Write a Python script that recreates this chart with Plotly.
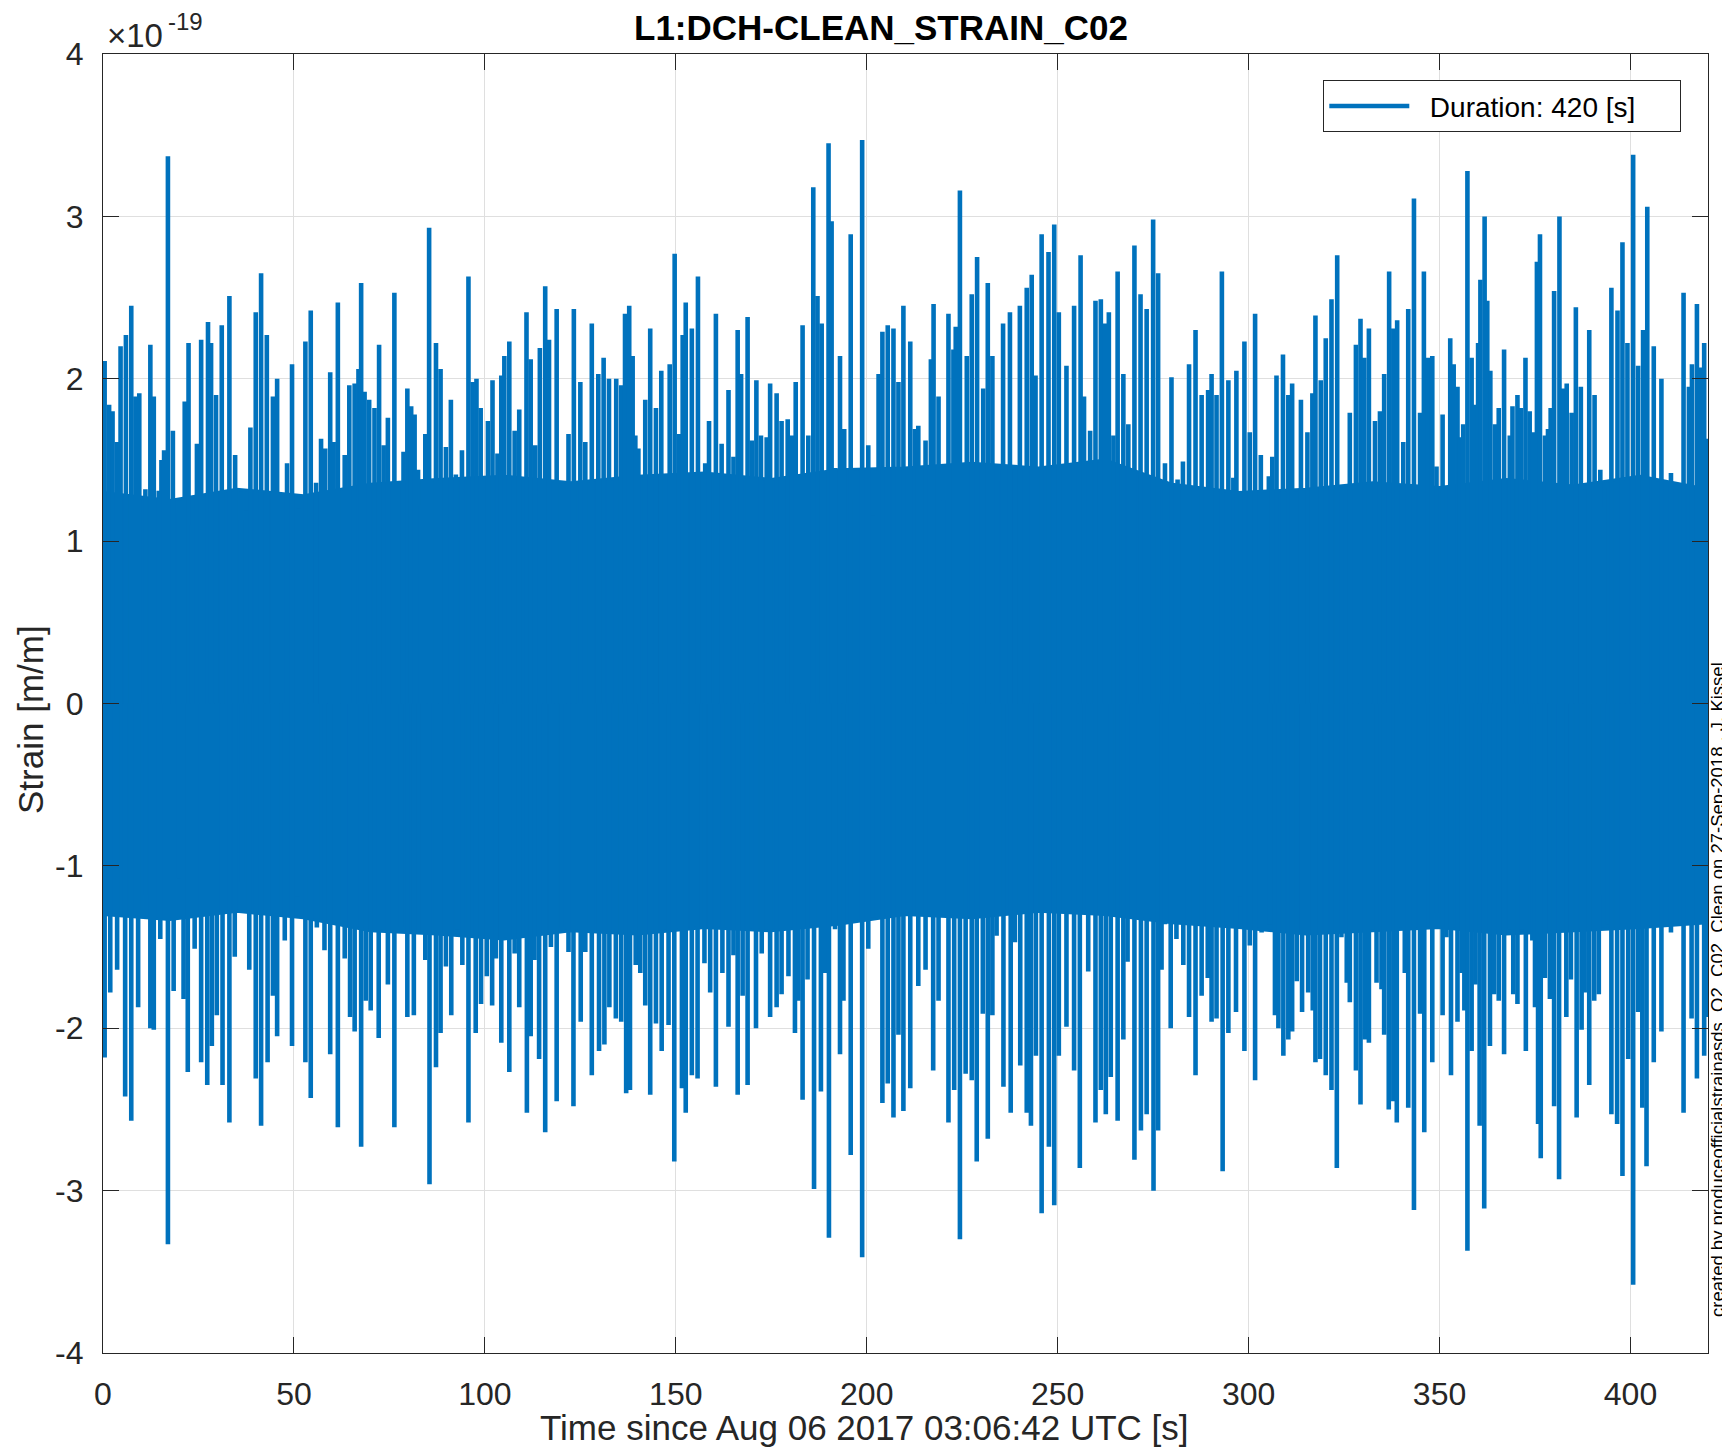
import plotly.graph_objects as go

# ---------------- data (strain in units of 1e-19, time in s) ----------------
peak_t = [0.43, 1.6, 2.5, 3.6, 4.6, 6.0, 7.4, 8.5, 9.5, 11.1, 12.4, 13.3, 14.6, 15.3, 16.0, 17.0, 18.3, 19.8,
          21.4, 22.4, 23.3, 24.6, 25.7, 27.5, 28.3, 29.6, 31.1, 33.1, 34.6, 36.2, 37.7, 38.6, 40.0, 41.4, 42.9,
          44.5, 45.6, 46.8, 48.2, 49.5, 51.2, 53.0, 54.4, 55.8, 57.1, 58.2, 59.5, 60.4, 61.5, 63.3, 64.5, 65.9,
          66.9, 67.6, 68.5, 69.7, 71.1, 72.3, 73.5, 74.6, 76.3, 77.4, 78.7, 79.7, 80.7, 81.6, 82.5, 83.3, 84.4,
          85.4, 87.2, 88.4, 89.8, 91.1, 92.4, 94.0, 95.7, 96.8, 97.8, 98.9, 100.8, 102.0, 103.3, 104.3, 105.1,
          106.4, 107.8, 109.0, 110.9, 112.0, 113.2, 114.4, 115.8, 116.8, 118.0, 118.8, 120.8, 121.9, 123.3, 125.0,
          126.3, 128.0, 129.7, 131.1, 132.5, 134.4, 135.7, 136.7, 137.8, 138.7, 139.4, 140.2, 142.0, 143.3, 144.8,
          146.2, 147.2, 148.4, 149.7, 150.9, 151.8, 152.6, 154.2, 155.8, 157.0, 157.7, 158.7, 160.5, 162.0, 163.8,
          165.1, 166.2, 167.1, 168.8, 169.9, 171.1, 172.3, 173.8, 174.7, 176.4, 177.7, 179.3, 180.4, 181.4, 183.2,
          184.7, 186.0, 187.1, 188.2, 190.0, 190.8, 191.7, 193.0, 194.1, 195.8, 196.9, 198.8, 200.4, 201.7, 203.1,
          204.1, 205.5, 207.0, 208.3, 209.6, 211.4, 212.6, 213.5, 215.4, 216.8, 217.5, 218.8, 220.1, 221.4, 222.7,
          223.3, 224.4, 226.2, 227.5, 228.9, 230.5, 231.7, 232.9, 234.1, 235.7, 237.5, 238.8, 240.1, 241.9, 243.2,
          244.2, 245.8, 247.6, 249.1, 250.3, 252.3, 254.3, 256.0, 256.9, 258.5, 259.9, 261.3, 262.4, 263.4, 264.6,
          265.7, 267.2, 268.5, 270.1, 271.7, 273.3, 275.0, 276.3, 278.1, 279.8, 281.4, 282.8, 284.4, 286.1, 287.7,
          289.4, 290.3, 291.6, 293.0, 294.7, 296.0, 296.8, 298.9, 300.3, 301.7, 303.2, 305.3, 306.2, 307.3, 309.0,
          310.4, 311.4, 313.7, 315.4, 316.7, 317.5, 318.9, 320.2, 321.7, 323.2, 324.3, 326.5, 328.1, 329.3, 330.3,
          331.5, 333.1, 334.4, 335.5, 336.8, 337.9, 338.9, 340.5, 341.8, 343.3, 344.9, 345.9, 346.9, 348.1, 349.2,
          350.8, 352.8, 353.7, 354.7, 355.3, 356.2, 357.3, 358.4, 359.3, 360.1, 360.7, 361.8, 362.5, 363.3, 364.5,
          365.5, 366.9, 368.4, 369.1, 370.4, 371.3, 372.5, 373.6, 374.5, 375.5, 376.3, 377.6, 378.4, 379.1, 380.0,
          381.4, 382.4, 383.3, 384.6, 385.7, 387.0, 388.0, 389.2, 390.6, 392.1, 393.1, 394.2, 395.0, 396.6, 397.9,
          399.2, 400.7, 402.0, 403.3, 404.4, 406.1, 408.1, 409.4, 410.6, 412.0, 413.9, 415.3, 416.1, 417.4, 418.4,
          419.3, 420.3]
peak_v = [2.11, 1.84, 1.80, 1.61, 2.20, 2.27, 2.45, 1.89, 1.91, 1.32, 2.21, 1.89, 1.31, 1.50, 1.56, 3.37, 1.68, 1.17,
          1.86, 2.22, 1.10, 1.60, 2.24, 2.35, 2.22, 1.90, 2.33, 2.51, 1.53, 1.13, 1.19, 1.70, 2.41, 2.65, 2.27,
          1.89, 2.00, 1.29, 1.48, 2.09, 1.20, 2.23, 2.42, 1.36, 1.63, 1.57, 2.04, 1.61, 2.47, 1.53, 1.96, 1.97,
          2.06, 2.59, 1.92, 1.87, 1.82, 2.21, 1.59, 1.76, 2.53, 1.37, 1.55, 1.94, 1.83, 1.78, 1.44, 1.22, 1.66,
          2.93, 2.22, 2.06, 1.58, 1.87, 1.41, 1.56, 2.63, 1.98, 2.00, 1.82, 1.74, 1.99, 1.54, 2.02, 2.14,
          2.23, 1.68, 1.81, 2.41, 2.12, 1.59, 2.19, 2.57, 2.24, 1.30, 2.43, 1.18, 1.66, 2.43, 1.98,
          1.61, 2.34, 2.03, 2.13, 2.00, 2.00, 1.96, 2.40, 2.45, 2.14, 1.65, 1.57, 1.87, 2.31, 1.82,
          2.05, 1.41, 2.09, 2.77, 1.66, 2.27, 2.47, 2.31, 2.63, 1.21, 1.48, 1.74, 2.40, 1.60, 1.93,
          1.52, 2.30, 2.03, 2.38, 1.62, 1.99, 1.65, 1.64, 1.97, 1.91, 1.74, 1.75, 1.65, 1.98, 2.33,
          1.65, 3.18, 2.51, 2.34, 3.45, 2.97, 1.45, 2.14, 1.69, 2.89, 1.26, 3.47, 1.59, 1.16, 2.03,
          2.29, 2.33, 2.31, 1.98, 2.45, 2.23, 1.69, 1.71, 1.62, 2.12, 2.46, 1.89, 1.25, 2.40, 2.18,
          2.32, 3.16, 2.14, 2.52, 2.75, 1.94, 2.59, 2.14, 1.37, 2.34, 2.41, 1.44, 2.45, 2.56, 2.64,
          2.02, 2.89, 2.78, 2.95, 2.41, 2.08, 2.45, 2.76, 1.89, 1.68, 2.48, 2.49, 2.34, 2.41, 1.65,
          2.66, 2.03, 1.72, 2.82, 2.52, 2.43, 2.98, 2.65, 1.48, 2.01, 1.38, 1.49, 2.09, 2.30, 1.90,
          1.93, 2.03, 1.90, 2.66, 1.99, 1.39, 2.05, 2.23, 1.67, 2.40, 1.53, 1.40, 1.52, 2.02, 2.15,
          1.90, 1.97, 1.87, 1.67, 1.91, 2.39, 1.99, 2.25, 2.49, 2.76, 1.30, 1.79, 2.21, 2.37, 2.13,
          2.31, 1.74, 1.80, 2.03, 2.66, 2.31, 2.36, 1.61, 2.43, 3.11, 1.79, 2.66, 2.13, 2.14, 1.46,
          1.78, 2.25, 2.09, 1.95, 1.64, 1.72, 3.28, 2.13, 1.84, 2.22, 2.61, 3.00, 2.48, 2.05, 1.72,
          1.82, 2.18, 1.65, 1.83, 1.90, 1.82, 2.13, 1.80, 1.67, 2.72, 2.89, 1.65, 1.69, 1.82, 2.54,
          3.00, 1.94, 1.97, 1.79, 2.44, 1.95, 1.32, 2.30, 1.90, 1.44, 1.21, 1.33, 2.56, 2.42, 2.84,
          2.22, 3.38, 2.08, 2.30, 3.06, 2.20, 2.00, 1.37, 1.42, 1.33, 2.53, 1.95, 2.09, 2.46, 2.07,
          2.22, 1.63]

trough_t = [0.43, 1.9, 3.7, 5.8, 7.4, 9.2, 11.1, 12.4, 13.3, 15.0, 17.0, 18.5, 19.8, 21.1, 22.2, 24.0, 25.7, 27.3,
            28.5, 29.8, 31.3, 33.1, 34.5, 36.4, 38.3, 40.0, 41.4, 43.1, 44.5, 45.6, 47.6, 49.5, 50.8, 53.0, 54.4,
            56.0, 58.0, 59.5, 61.5, 63.3, 64.7, 65.9, 67.6, 68.8, 70.1, 72.2, 74.6, 76.3, 78.1, 79.7, 81.4, 82.6,
            84.4, 85.5, 87.2, 88.4, 89.8, 91.2, 92.7, 94.1, 95.7, 97.6, 99.0, 100.5, 101.9, 102.9, 104.3, 106.4,
            107.8, 109.0, 111.0, 112.0, 113.0, 114.2, 115.8, 117.3, 118.8, 120.1, 121.9, 123.2, 125.1, 126.3, 128.0,
            129.9, 131.3, 132.6, 134.3, 135.7, 137.0, 138.0, 139.5, 140.7, 142.0, 143.3, 144.8, 146.3, 148.1, 149.6,
            151.6, 152.6, 154.2, 155.7, 157.5, 159.0, 160.5, 162.2, 163.8, 165.1, 166.2, 167.5, 168.8, 171.0, 172.5,
            174.7, 176.4, 177.7, 179.5, 181.2, 182.1, 183.2, 184.5, 186.2, 188.0, 189.1, 190.1, 191.7, 193.0, 193.9,
            195.8, 196.9, 198.8, 200.4, 201.5, 204.1, 205.5, 207.0, 208.3, 209.6, 211.4, 213.5, 215.4, 217.4, 218.8,
            220.1, 221.4, 222.9, 224.4, 225.9, 227.5, 228.8, 230.4, 231.7, 232.9, 234.0, 235.8, 237.7, 238.8, 240.2,
            241.9, 243.0, 244.3, 245.8, 247.7, 249.1, 250.3, 252.3, 254.3, 255.8, 258.0, 259.9, 261.3, 262.6, 263.9,
            265.7, 267.2, 268.3, 270.1, 271.8, 273.3, 275.1, 276.3, 277.2, 278.1, 279.6, 281.1, 282.9, 284.4, 286.1,
            287.7, 289.3, 290.3, 291.6, 293.2, 294.7, 296.7, 297.7, 298.9, 300.3, 301.7, 303.4, 305.6, 306.9, 307.8,
            309.1, 310.4, 311.4, 312.6, 314.0, 315.6, 316.8, 317.5, 318.7, 320.2, 321.7, 323.1, 324.3, 325.7, 326.5,
            328.1, 329.3, 330.4, 331.5, 333.5, 334.8, 335.5, 336.7, 337.9, 338.8, 340.9, 341.8, 343.3, 344.9, 346.0,
            348.1, 349.2, 350.8, 351.8, 353.0, 354.7, 355.8, 356.5, 357.3, 358.4, 359.4, 360.5, 361.7, 363.2, 364.3,
            365.5, 366.9, 368.4, 369.3, 370.4, 371.5, 372.6, 374.3, 375.0, 375.8, 376.5, 377.6, 378.9, 380.0, 381.3,
            383.2, 384.4, 385.9, 387.2, 388.0, 389.2, 390.5, 391.7, 392.8, 394.1, 395.0, 396.5, 397.9, 399.4, 400.7,
            402.0, 403.1, 404.2, 406.1, 408.1, 409.2, 410.6, 412.0, 413.9, 416.0, 417.4, 419.3, 420.3]
trough_v = [-2.18, -1.78, -1.64, -2.42, -2.57, -1.87, -1.18, -2.00, -2.01, -1.45, -3.33, -1.77, -1.08, -1.82, -2.27,
            -1.51, -2.21, -2.35, -2.11, -1.92, -2.35, -2.58, -1.56, -1.10, -1.64, -2.31, -2.60, -2.21, -1.80, -2.05,
            -1.46, -2.11, -1.19, -2.21, -2.43, -1.38, -1.52, -2.16, -2.61, -1.57, -1.93, -2.02, -2.73, -1.83, -1.89,
            -2.06, -1.73, -2.61, -1.38, -1.93, -1.92, -1.41, -1.58, -2.96, -2.24, -2.03, -1.62, -1.92, -1.39, -1.61,
            -2.58, -2.03, -1.85, -1.68, -1.86, -1.57, -2.09, -2.27, -1.54, -1.87, -2.52, -2.05, -1.58, -2.19, -2.64,
            -1.50, -2.45, -1.38, -1.53, -2.48, -1.96, -1.53, -2.29, -2.14, -2.10, -1.87, -1.94, -1.96, -2.40, -2.38,
            -1.61, -1.66, -1.86, -2.41, -1.97, -2.14, -1.98, -2.82, -2.37, -2.52, -2.29, -2.31, -1.60, -1.78, -2.36,
            -1.66, -1.99, -1.55, -2.41, -1.80, -2.35, -2.00, -1.54, -1.93, -1.87, -1.79, -1.68, -2.03, -1.83, -2.44,
            -1.70, -2.99, -2.39, -1.66, -3.29, -1.39, -2.16, -1.83, -2.78, -1.13, -3.41, -1.51, -1.32, -2.46, -2.34,
            -2.55, -2.04, -2.51, -2.37, -1.74, -1.64, -2.26, -1.83, -1.22, -2.58, -2.38, -3.30, -2.28, -2.32, -2.82,
            -1.91, -2.68, -1.92, -1.43, -2.36, -2.52, -1.47, -2.23, -2.52, -2.60, -2.17, -3.14, -2.73, -3.09, -2.17,
            -1.99, -2.26, -2.86, -1.65, -2.58, -2.38, -2.53, -2.30, -2.57, -2.07, -1.59, -2.81, -2.63, -2.53, -3.00,
            -2.63, -1.64, -1.36, -2.00, -1.45, -1.61, -1.93, -2.29, -1.80, -1.69, -1.96, -1.94, -2.88, -2.03, -1.90,
            -1.19, -2.14, -1.49, -2.32, -1.41, -1.36, -1.92, -2.00, -2.17, -2.07, -2.02, -1.71, -1.90, -1.78, -1.89,
            -2.21, -2.19, -2.29, -2.38, -2.86, -1.44, -1.72, -1.84, -2.26, -2.47, -2.07, -2.09, -1.72, -1.76, -2.04,
            -2.50, -2.45, -2.58, -1.66, -2.49, -3.12, -1.91, -2.64, -2.21, -1.29, -1.92, -1.44, -2.29, -1.96, -1.66,
            -1.89, -3.37, -2.14, -1.73, -2.60, -3.11, -2.11, -1.79, -1.83, -2.16, -1.39, -1.79, -1.85, -1.39, -2.14,
            -1.46, -1.87, -2.59, -2.80, -1.69, -1.82, -2.48, -2.93, -1.93, -1.70, -2.55, -2.01, -1.78, -2.35, -1.83,
            -1.79, -1.18, -1.36, -2.53, -2.59, -2.91, -2.19, -3.58, -1.90, -2.49, -2.85, -2.21, -2.02, -1.34, -1.41,
            -1.37, -2.52, -1.94, -2.31, -2.17, -1.93]

# level up to which the dense trace looks solid (upper / lower edge of the filled band), x1e-19
core_t = [0, 17.5, 35, 52.5, 70, 87.5, 105, 122.5, 140, 157.5, 175, 192.5, 210, 227.5, 245, 262.5, 280,
          297.5, 315, 332.5, 350, 367.5, 385, 402.5, 420.3]
core_hi = [1.30, 1.25, 1.32, 1.28, 1.35, 1.38, 1.40, 1.36, 1.40, 1.42, 1.38, 1.44, 1.45, 1.48, 1.45, 1.50, 1.35,
           1.30, 1.32, 1.36, 1.33, 1.38, 1.34, 1.40, 1.32]
core_lo = [-1.30, -1.33, -1.28, -1.32, -1.40, -1.42, -1.45, -1.40, -1.42, -1.38, -1.40, -1.36, -1.30, -1.32, -1.28,
           -1.30, -1.35, -1.38, -1.42, -1.40, -1.38, -1.42, -1.40, -1.38, -1.35]

x_ticks = [0, 50, 100, 150, 200, 250, 300, 350, 400]
y_ticks = [-4, -3, -2, -1, 0, 1, 2, 3, 4]
y_ticktext = ["-4", "-3", "-2", "-1", "0", "1", "2", "3", "4"]

# --------------- traces ---------------
events = sorted(list(zip(peak_t, peak_v)) + list(zip(trough_t, trough_v)))
xs, ys = [], []
for t, v in events:
    xs += [t, t, None]
    ys += [0, v, None]

FONT = "Liberation Sans, Arial, Helvetica, sans-serif"
AX = "#262626"
BLUE = "#0072BD"

fig = go.Figure()
fig.add_trace(go.Scatter(x=core_t + core_t[::-1], y=core_hi + core_lo[::-1], mode="lines",
                         fill="toself", fillcolor=BLUE, line=dict(color=BLUE, width=3),
                         showlegend=False, hoverinfo="skip"))
fig.add_trace(go.Scatter(x=xs, y=ys, mode="lines",
                         name="\u00a0\u00a0Duration: 420 [s]" + "\u00a0" * 5,
                         line=dict(color=BLUE, width=4.6), hoverinfo="skip", connectgaps=False))

# page has an 8px body margin: figure is drawn 8px in from the top-left corner
OFF = 8
W, H = 1730 - OFF, 1447 - OFF
L, T = 103 - OFF, 54 - OFF
R = W - (1708 - OFF)
B = H - (1353 - OFF)
pw, ph = W - L - R, H - T - B

def px(xp):  # page x pixel -> paper fraction
    return (xp - OFF - L) / pw

def py(yp):  # page y pixel -> paper fraction
    return (H - B - (yp - OFF)) / ph

axis_common = dict(showline=True, linecolor=AX, linewidth=1.3, mirror="ticks",
                   ticks="inside", ticklen=16, tickwidth=1.3, tickcolor=AX,
                   showgrid=True, gridcolor="#dfdfdf", gridwidth=1, zeroline=False,
                   tickfont=dict(family=FONT, size=32, color=AX))

fig.update_layout(
    width=W, height=H,
    margin=dict(l=L, r=R, t=T, b=B),
    paper_bgcolor="white", plot_bgcolor="white",
    xaxis=dict(range=[0, 420.3], tickvals=x_ticks, ticktext=[str(v) for v in x_ticks],
               ticklabelstandoff=12, **axis_common),
    yaxis=dict(range=[-4, 4], tickvals=y_ticks, ticktext=y_ticktext,
               ticklabelstandoff=12, **axis_common),
    showlegend=True,
    legend=dict(x=px(1681), y=py(80), xanchor="right", yanchor="top",
                bgcolor="white", bordercolor=AX, borderwidth=1.3,
                font=dict(family=FONT, size=28, color="black"), itemwidth=80),
)

annotations = [
    dict(text="<b>L1:DCH-CLEAN_STRAIN_C02</b>", x=px(881), y=py(28), xref="paper", yref="paper",
         showarrow=False, xanchor="center", yanchor="middle", font=dict(family=FONT, size=35, color="black")),
    dict(text="Time since Aug 06 2017 03:06:42 UTC [s]", x=px(864), y=py(1427), xref="paper", yref="paper",
         showarrow=False, xanchor="center", yanchor="middle", font=dict(family=FONT, size=35, color=AX)),
    dict(text="Strain [m/m]", x=px(30), y=py(720), xref="paper", yref="paper", textangle=-90,
         showarrow=False, xanchor="center", yanchor="middle", font=dict(family=FONT, size=35, color=AX)),
    dict(text="×10", x=px(105), y=py(35), xref="paper", yref="paper",
         showarrow=False, xanchor="left", yanchor="middle", font=dict(family=FONT, size=33, color=AX)),
    dict(text="-19", x=px(167), y=py(22), xref="paper", yref="paper", borderpad=0,
         showarrow=False, xanchor="left", yanchor="middle", font=dict(family=FONT, size=24, color=AX)),
    dict(text="created by produceofficialstrainasds_O2_C02_Clean on 27-Sep-2018 , J. Kissel",
         x=px(1718), y=py(990), xref="paper", yref="paper", textangle=-90, borderpad=0,
         showarrow=False, xanchor="center", yanchor="middle", font=dict(family=FONT, size=18.5, color="black")),
]
fig.update_layout(annotations=annotations)

fig.write_html("out.html")
